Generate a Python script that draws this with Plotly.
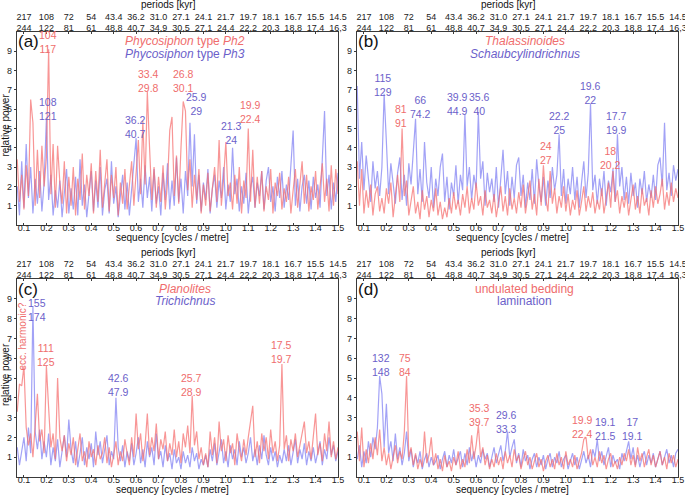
import plotly.graph_objects as go

# ---------------- data ----------------
FREQ = [round(0.07 + 0.01 * i, 2) for i in range(144)]  # sequency grid [cycles/metre]

A_RED = [3.4,1.2,2.6,0.8,3.1,1.5,6.5,5.3,1.0,3.9,1.4,4.1,
         2.0,3.5,9.1,1.6,4.2,0.9,4.1,2.2,1.1,3.3,0.6,2.5,
         1.0,3.0,0.5,2.4,1.3,3.7,0.8,2.6,1.5,3.2,0.6,2.8,
         1.2,3.9,0.9,2.0,3.4,0.7,2.6,1.4,3.0,0.5,2.2,1.1,
         2.9,0.8,1.9,3.3,1.0,2.7,4.4,1.6,5.4,2.1,6.9,4.0,
         1.3,3.0,0.9,2.5,1.2,3.1,0.8,2.2,4.9,5.6,1.5,3.6,
         1.1,4.0,6.4,5.9,1.8,3.4,0.9,2.6,1.3,2.9,0.6,2.1,
         1.0,2.7,0.7,1.9,3.0,1.2,4.4,1.0,2.4,4.3,1.5,2.2,
         0.8,2.6,1.1,3.0,0.6,2.3,1.4,5.0,1.2,3.9,0.9,2.5,
         1.1,2.8,0.7,2.0,1.3,2.9,0.6,2.2,1.5,2.7,0.8,1.9,
         1.2,2.5,0.6,1.8,2.9,0.9,2.3,3.3,1.1,2.6,0.7,2.0,
         1.3,2.8,0.8,2.1,3.2,1.2,2.4,0.7,3.1,1.0,2.9,1.6]
A_BLUE = [2.0,0.5,3.3,0.9,4.2,1.4,3.0,0.6,2.4,1.1,2.8,0.7,
          2.2,5.5,1.3,2.6,0.5,1.8,0.9,2.3,0.4,1.6,2.9,0.6,
          1.9,0.8,2.5,0.5,3.4,1.0,2.1,0.4,1.7,2.8,0.7,2.3,
          0.9,3.0,0.5,1.8,2.4,0.6,3.3,1.1,2.0,0.4,1.5,2.6,
          0.8,2.2,0.5,1.9,3.0,4.5,1.2,2.4,0.9,3.1,1.4,2.5,
          0.7,2.9,1.1,2.0,0.5,2.7,1.3,3.2,0.8,2.3,1.0,3.5,
          1.2,2.4,0.6,2.8,1.5,5.3,2.0,4.7,1.1,2.6,0.7,2.2,
          1.3,2.9,0.6,1.9,2.6,0.9,2.3,1.4,3.0,0.8,2.1,1.2,
          4.0,1.6,2.4,0.7,2.0,1.1,2.7,0.6,1.9,2.5,0.9,2.2,
          1.5,2.8,0.8,2.3,3.0,1.2,2.0,0.7,2.5,1.4,2.8,0.9,
          2.1,1.3,3.1,4.9,1.0,2.4,0.7,2.0,2.6,1.1,2.3,0.8,
          2.5,1.4,2.1,0.9,3.4,5.9,1.5,2.6,0.8,2.2,1.2,2.7]

B_RED = [3.3,1.0,2.9,0.6,1.8,0.9,2.1,0.5,1.6,2.0,0.7,1.4,
         0.6,1.9,1.1,2.2,0.4,1.7,2.6,1.2,5.0,1.5,2.3,0.5,
         1.4,2.0,0.6,1.2,0.3,1.8,0.8,1.5,0.4,1.3,0.7,1.9,
         0.5,1.2,0.3,0.9,0.4,1.4,0.6,1.7,0.8,1.3,0.5,1.6,
         0.9,2.0,0.6,1.4,0.8,2.2,1.0,1.5,0.5,1.8,0.9,1.3,
         0.6,1.6,0.4,1.2,2.0,0.7,1.5,0.5,1.9,0.8,1.4,0.6,
         1.7,0.9,2.1,0.6,1.5,2.3,0.8,1.6,0.5,2.4,1.0,3.1,
         1.4,0.7,2.8,1.1,1.9,0.6,1.5,0.9,2.0,0.7,1.6,0.5,
         1.3,0.8,1.8,0.5,1.2,2.0,0.7,1.5,0.9,1.7,0.6,1.3,
         0.8,1.9,0.6,1.4,2.2,0.9,2.8,1.2,1.8,0.6,1.5,0.9,
         1.7,0.5,1.3,2.1,0.8,1.5,0.6,1.9,1.0,1.4,0.5,1.8,
         0.9,2.0,1.1,1.6,2.4,0.8,1.7,1.0,2.2,1.2,1.9,1.4]
B_BLUE = [7.2,2.4,4.3,1.8,3.6,2.5,1.2,3.3,1.9,2.8,1.5,3.0,
          6.8,4.3,1.6,3.2,2.0,1.1,2.7,3.5,1.3,2.6,1.0,3.2,
          2.1,3.8,5.5,1.6,2.9,1.2,4.3,2.2,1.4,3.0,0.9,2.4,
          1.5,3.0,3.7,1.2,2.5,0.8,2.2,1.5,3.1,1.1,2.6,1.8,
          5.7,2.0,3.0,1.3,2.6,1.9,5.8,2.4,3.3,1.0,2.7,1.7,
          2.4,1.2,3.0,0.9,2.3,3.9,1.6,2.8,1.0,2.5,1.4,3.1,
          3.5,1.5,2.6,0.9,2.2,1.3,2.9,1.1,3.4,2.0,1.2,2.5,
          1.0,2.3,1.4,3.0,1.8,2.6,4.7,1.5,2.9,1.1,2.4,1.6,
          3.0,1.3,2.5,0.9,2.2,3.3,1.4,2.7,6.3,1.8,2.6,1.1,
          2.4,1.5,2.8,1.0,2.3,1.7,2.9,1.2,4.7,2.0,3.0,1.3,
          2.5,1.1,2.7,1.5,2.2,0.9,2.4,1.6,2.8,1.2,2.1,1.4,
          2.6,1.3,3.1,3.5,2.0,5.3,1.8,2.7,1.5,3.1,2.3,2.9]

C_RED = [3.3,4.7,4.6,5.6,2.5,1.6,2.2,1.0,2.6,4.2,1.8,2.4,
         1.2,5.6,3.5,1.5,2.2,0.9,5.0,2.0,1.3,2.1,0.8,1.7,
         1.1,2.0,0.6,1.5,2.2,0.8,1.3,0.5,1.8,1.0,1.4,0.6,
         1.6,0.9,1.2,2.0,0.7,1.5,0.5,1.1,1.8,0.6,1.3,0.8,
         1.9,1.2,0.6,2.0,1.0,3.2,1.4,2.2,0.8,1.6,3.2,1.1,
         2.0,1.3,2.7,0.9,1.9,1.4,2.3,0.8,1.7,1.1,2.4,1.0,
         1.8,0.7,2.2,1.5,2.6,1.2,4.1,1.6,2.3,0.9,1.5,0.6,
         1.2,0.5,2.3,1.1,2.0,0.7,2.8,1.3,1.9,0.8,2.1,1.2,
         1.7,0.6,2.2,1.4,0.8,1.9,1.1,2.0,2.9,3.6,1.0,1.8,
         0.7,2.2,1.3,2.0,0.9,2.4,1.2,1.8,0.8,1.6,5.7,1.4,
         2.1,0.8,1.9,1.3,2.2,1.0,1.6,2.3,2.8,1.2,1.8,0.9,
         2.0,3.2,1.1,1.7,0.8,2.2,1.3,2.8,1.0,1.8,0.9,1.5]
C_BLUE = [1.5,0.6,1.3,2.0,0.8,2.5,1.2,8.6,2.3,1.4,2.4,0.9,
          1.8,1.0,2.2,0.6,1.5,0.8,1.9,0.5,1.3,2.1,1.0,2.9,
          1.4,0.7,1.8,0.5,1.2,2.0,0.6,1.5,0.9,1.7,0.5,2.3,
          1.1,1.8,0.7,1.4,2.1,0.6,1.3,0.9,4.0,1.5,0.8,1.6,
          0.5,1.3,0.8,1.7,0.6,1.2,2.0,0.7,1.4,0.5,1.8,1.0,
          1.5,0.6,2.2,0.9,1.3,0.5,1.6,0.8,1.2,0.4,1.4,0.7,
          1.0,0.4,1.3,0.7,1.1,0.5,1.5,0.8,1.2,0.4,0.9,0.6,
          1.1,0.5,1.4,0.8,1.7,0.6,1.2,1.9,0.7,1.3,0.5,1.6,
          0.9,1.4,0.6,1.8,1.0,1.5,0.7,1.2,2.0,0.8,1.4,0.6,
          1.6,0.9,2.1,1.1,0.6,1.5,0.8,1.3,0.5,1.1,0.7,1.4,
          0.8,1.6,0.6,1.2,1.9,0.7,1.4,0.9,1.7,0.6,1.3,0.8,
          1.5,0.7,1.2,1.8,0.6,1.4,0.9,2.0,1.1,1.6,0.8,1.3]

D_RED = [2.3,0.8,2.5,0.5,1.4,0.7,1.7,0.9,2.0,1.1,2.4,0.8,
         1.5,0.6,1.2,0.4,1.0,1.6,0.7,1.3,0.9,2.3,5.1,1.0,
         1.5,0.6,1.2,0.4,0.9,0.5,2.3,0.7,1.1,2.0,0.6,1.2,
         0.4,0.9,0.3,1.1,0.5,0.8,0.3,1.0,0.6,1.3,0.4,0.9,
         0.5,1.4,0.7,2.1,0.9,1.6,2.6,1.0,1.5,0.6,1.1,0.4,
         0.9,0.5,1.2,0.6,1.0,0.4,1.3,0.7,1.1,0.5,1.4,0.8,
         1.1,0.4,0.9,1.3,0.6,1.0,0.4,0.8,1.2,0.5,0.9,0.3,
         0.8,1.1,0.5,0.9,0.4,1.2,0.6,1.0,0.4,1.3,0.6,0.9,
         0.5,1.1,0.4,0.8,1.2,1.9,2.0,0.9,1.4,0.6,1.0,0.5,
         1.3,0.7,1.1,0.4,0.9,1.2,0.5,0.8,0.4,1.0,0.6,1.2,
         0.8,1.4,0.6,1.1,0.5,1.5,0.8,1.2,0.5,1.0,1.4,0.6,
         1.1,0.5,0.9,1.3,0.6,1.0,0.4,1.2,0.7,1.1,0.5,0.9]
D_BLUE = [0.9,1.6,0.5,1.3,0.7,1.8,1.0,2.0,1.4,2.5,5.1,4.2,
          1.5,3.7,1.2,1.8,0.8,2.2,0.9,1.5,0.6,1.2,2.3,0.8,
          1.4,0.5,1.1,0.7,1.3,0.4,0.9,1.2,0.5,1.0,0.6,0.8,
          1.1,0.4,0.9,1.3,0.5,1.1,0.7,1.4,0.6,1.0,1.3,0.5,
          1.2,0.6,1.5,0.8,1.3,0.5,1.1,0.7,1.4,0.9,1.2,0.5,
          1.0,1.5,0.7,1.1,1.6,0.8,1.3,2.3,1.0,1.5,1.9,0.7,
          1.2,0.5,1.4,0.8,1.1,0.4,0.9,1.2,0.5,1.0,0.6,1.1,
          0.4,0.9,1.2,0.5,1.0,0.7,1.3,0.5,0.9,1.1,0.4,0.8,
          1.2,0.6,1.0,0.4,0.9,1.3,0.7,1.1,0.5,1.4,1.0,1.9,
          0.8,1.3,0.6,1.0,1.5,0.5,1.1,0.7,0.9,0.4,1.2,0.8,
          1.4,1.8,0.9,1.5,0.6,1.1,0.5,1.0,1.3,0.6,1.1,0.7,
          1.2,0.5,0.9,1.3,0.6,1.0,1.4,0.7,1.1,0.5,1.2,1.4]

SEQ_TICKS = [0.1, 0.2, 0.3, 0.4, 0.5, 0.6, 0.7, 0.8, 0.9, 1.0, 1.1, 1.2, 1.3, 1.4, 1.5]
SEQ_TICKTEXT = ["0.1", "0.2", "0.3", "0.4", "0.5", "0.6", "0.7", "0.8", "0.9", "1.0",
                "1.1", "1.2", "1.3", "1.4", "1.5"]
PERIOD_ROW1 = ["217", "108", "72", "54", "43.4", "36.2", "31.0", "27.1", "24.1", "21.7",
               "19.7", "18.1", "16.7", "15.5", "14.5"]
PERIOD_ROW2 = ["244", "122", "81", "61", "48,8", "40,7", "34,9", "30,5", "27,1", "24,4",
               "22,2", "20,3", "18,8", "17,4", "16,3"]
POWER_TICKS = [1, 2, 3, 4, 5, 6, 7, 8, 9]

PANEL_LETTERS = ["(a)", "(b)", "(c)", "(d)"]
RED_NAMES = ["<i>Phycosiphon</i> type <i>Ph2</i>", "<i>Thalassinoides</i>",
             "<i>Planolites</i>", "undulated bedding"]
BLUE_NAMES = ["<i>Phycosiphon</i> type <i>Ph3</i>", "<i>Schaubcylindrichnus</i>",
              "<i>Trichichnus</i>", "lamination"]

# peak labels: (sequency, power, text, series)
PEAKS_A = [(0.208, 9.5, "104<br>117", "r"), (0.205, 6.0, "108<br>121", "b"),
           (0.655, 7.45, "33.4<br>29.8", "r"), (0.81, 7.45, "26.8<br>30.1", "r"),
           (0.871, 6.28, "25.9<br>29", "b"), (0.598, 5.1, "36.2<br>40.7", "b"),
           (1.027, 4.76, "21.3<br>24", "b"), (1.109, 5.88, "19.9<br>22.4", "r")]
PEAKS_B = [(0.183, 7.25, "115<br>129", "b"), (0.35, 6.13, "66<br>74.2", "b"),
           (0.264, 5.64, "81<br>91", "r"), (0.517, 6.25, "39.9<br>44.9", "b"),
           (0.615, 6.25, "35.6<br>40", "b"), (0.972, 5.3, "22.2<br>25", "b"),
           (0.911, 3.71, "24<br>27", "r"), (1.109, 6.84, "19.6<br>22", "b"),
           (1.228, 5.26, "17.7<br>19.9", "b"), (1.201, 3.45, "18<br>20.2", "r")]
PEAKS_C = [(0.157, 8.44, "155<br>174", "b"), (0.197, 6.14, "111<br>125", "r"),
           (0.521, 4.63, "42.6<br>47.9", "b"), (0.845, 4.63, "25.7<br>28.9", "r"),
           (1.246, 6.3, "17.5<br>19.7", "r")]
PEAKS_D = [(0.174, 5.64, "132<br>148", "b"), (0.283, 5.64, "75<br>84", "r"),
           (0.615, 3.15, "35.3<br>39.7", "r"), (0.737, 2.76, "29.6<br>33.3", "b"),
           (1.076, 2.52, "19.9<br>22.4", "r"), (1.176, 2.42, "19.1<br>21.5", "b"),
           (1.295, 2.42, "17<br>19.1", "b")]

# ---------------- style ----------------
W, H = 685, 496
FONT = "Liberation Sans, Arial, sans-serif"
RED_LINE = "rgba(245,110,110,0.72)"
BLUE_LINE = "rgba(105,105,240,0.62)"
RED_TXT = "#ef6d6d"
BLUE_TXT = "#6c5fca"
AXC = "#3a3a3a"
XR = [0.069, 1.5]
YR = [0, 10]

X_DOM = [[17 / W, 338 / W], [357 / W, 678 / W]]
Y_DOM = [[1 - 225 / H, 1 - 32 / H], [1 - 477 / H, 1 - 279 / H]]

reds = [A_RED, B_RED, C_RED, D_RED]
blues = [A_BLUE, B_BLUE, C_BLUE, D_BLUE]
peaks = [PEAKS_A, PEAKS_B, PEAKS_C, PEAKS_D]

fig = go.Figure()
layout = {}
annotations = []


def note(text, x, y, size, color, xref="paper", yref="paper", angle=0):
    annotations.append(dict(text=text, xref=xref, yref=yref, x=x, y=y, showarrow=False,
                            xanchor="center", yanchor="middle", textangle=angle,
                            font=dict(family=FONT, size=size, color=color)))


for k in range(4):
    n = k + 1
    col, row = k % 2, k // 2
    xb = "x" if n == 1 else f"x{n}"
    yb = "y" if n == 1 else f"y{n}"
    xt = f"x{n + 4}"
    fig.add_trace(go.Scatter(x=FREQ, y=reds[k], mode="lines", xaxis=xt, yaxis=yb,
                             line=dict(color=RED_LINE, width=1.2), showlegend=False,
                             hoverinfo="skip"))
    fig.add_trace(go.Scatter(x=FREQ, y=blues[k], mode="lines", xaxis=xb, yaxis=yb,
                             line=dict(color=BLUE_LINE, width=1.2), showlegend=False,
                             hoverinfo="skip"))
    common = dict(showgrid=False, zeroline=False, showline=True, linecolor=AXC,
                  linewidth=1.3, tickfont=dict(family=FONT, size=9, color="#222"),
                  tickcolor=AXC, automargin=False, ticklabeloverflow="allow")
    layout[f"xaxis{n}"] = dict(domain=X_DOM[col], anchor=yb, range=XR,
                               tickvals=SEQ_TICKS, ticktext=SEQ_TICKTEXT,
                               ticks="inside", ticklen=2, ticklabelstandoff=-6, **common)
    layout[f"yaxis{n}"] = dict(domain=Y_DOM[row], anchor=xb, range=YR,
                               tickvals=POWER_TICKS, ticks="outside", ticklen=2,
                               mirror=True, **common)
    layout[f"xaxis{n + 4}"] = dict(overlaying=xb, side="top", anchor=yb, range=XR,
                                   tickvals=SEQ_TICKS,
                                   ticktext=[f"{a}<br>{b}" for a, b in zip(PERIOD_ROW1, PERIOD_ROW2)],
                                   ticks="inside", ticklen=2, ticklabelstandoff=-4, **common)

    x0, x1 = X_DOM[col]
    y0, y1 = Y_DOM[row]
    xc = (x0 + x1) / 2
    note(PANEL_LETTERS[k], x0 + 11 / W, y1 - 10 / H, 17, "#111")
    note(RED_NAMES[k], xc + 7 / W, y1 - 9.5 / H, 12, RED_TXT)
    note(BLUE_NAMES[k], xc + 7 / W, y1 - 22 / H, 12, BLUE_TXT)
    note("sequency [cycles / metre]", xc - 5 / W, y0 - 12.5 / H, 10, "#111")
    note("periods [kyr]", xc - 9 / W, y1 + 27 / H, 10, "#111")
    if col == 0:
        note("relative power", 5 / W, (y0 + y1) / 2 + 3 / H, 10, "#111", angle=-90)
    for f, p, t, s in peaks[k]:
        note(t, f, p, 10.5, RED_TXT if s == "r" else BLUE_TXT, xref=xb, yref=yb)

note("ecc. harmonic?", 0.092, 7.1, 10, RED_TXT, xref="x3", yref="y3", angle=-90)

fig.update_layout(width=W, height=H, margin=dict(l=0, r=0, t=0, b=0),
                  paper_bgcolor="white", plot_bgcolor="white",
                  font=dict(family=FONT), annotations=annotations, **layout)

fig.write_html("out.html", config={"displayModeBar": False},
               post_script="document.body.style.margin='0px';document.body.style.overflow='hidden';")
